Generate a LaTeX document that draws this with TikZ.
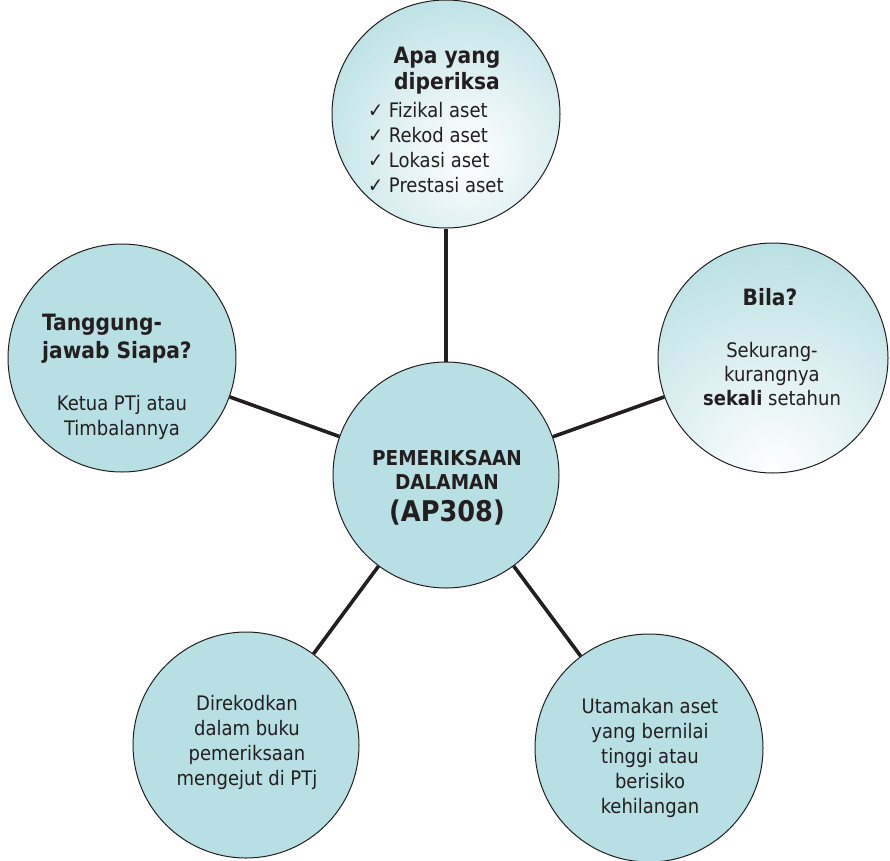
\documentclass[tikz,border=0pt]{standalone}
\usepackage{fontspec}
\setmainfont{DejaVu Sans Condensed}
\definecolor{cblue}{RGB}{184,223,227}
\definecolor{ink}{RGB}{35,31,32}
\begin{document}
\begin{tikzpicture}[x=1pt,y=-1pt,
  bub/.style={circle,draw=ink,line width=1pt,fill=cblue,inner sep=0pt,minimum size=228pt},
  conn/.style={draw=ink,line width=3.6pt},
  txt/.style={text=ink,inner sep=0pt,font=\fontsize{20}{25}\selectfont,align=center},
  ttl/.style={text=ink,inner sep=0pt,font=\fontsize{22.5}{27}\selectfont\bfseries,align=center}]
\useasboundingbox (0,0) rectangle (890,860);
\node[bub,path picture={\shade[inner color=white,outer color=cblue]
   ([shift={(22pt,-40pt)}]path picture bounding box.center) circle (175pt);}] (top) at (446,114) {};
\node[bub] (lft) at (122,358) {};
\node[bub,minimum size=230pt,path picture={\shade[inner color=white,outer color=cblue]
   ([shift={(0pt,-115pt)}]path picture bounding box.center) circle (235pt);}] (rgt) at (773,358) {};
\node[bub,minimum size=226pt] (ctr) at (446,475) {};
\node[bub,minimum size=226pt] (bl) at (246,745) {};
\node[bub] (br) at (649,748) {};
\draw[conn] (ctr) -- (top);
\draw[conn] (ctr) -- (lft);
\draw[conn] (ctr) -- (rgt);
\draw[conn] (ctr) -- (bl);
\draw[conn] (ctr) -- (br);
% top
\node[ttl,font=\fontsize{22.5}{26}\selectfont\bfseries] (topt) at (447,71) {Apa yang\\diperiksa};
\node[txt,align=left,anchor=west] (topl) at (368,147.5) {✓ Fizikal aset\\✓ Rekod aset\\✓ Lokasi aset\\✓ Prestasi aset};
% right
\node[ttl] (rgtt) at (770,297) {Bila?};
\node[txt,font=\fontsize{20}{24}\selectfont] (rgtl) at (772,374) {Sekurang-\\kurangnya\\\textbf{sekali} setahun};
% left
\node[ttl,align=left,anchor=west,font=\fontsize{22.5}{28}\selectfont\bfseries] (lftt) at (42,339) {Tanggung-\\jawab Siapa?};
\node[txt] (lftl) at (122,417.5) {Ketua PTj atau\\Timbalannya};
% center
\node[ttl,font=\fontsize{20.5}{24}\selectfont\bfseries] (ctrt) at (447,470) {PEMERIKSAAN\\DALAMAN};
\node[ttl,font=\fontsize{28.5}{30}\selectfont\bfseries] (ctrc) at (447,513) {(AP308)};
% bottom
\node[txt] (blt) at (247,742.5) {Direkodkan\\dalam buku\\pemeriksaan\\mengejut di PTj};
\node[txt] (brt) at (650,758) {Utamakan aset\\yang bernilai\\tinggi atau\\berisiko\\kehilangan};
\end{tikzpicture}
\end{document}
